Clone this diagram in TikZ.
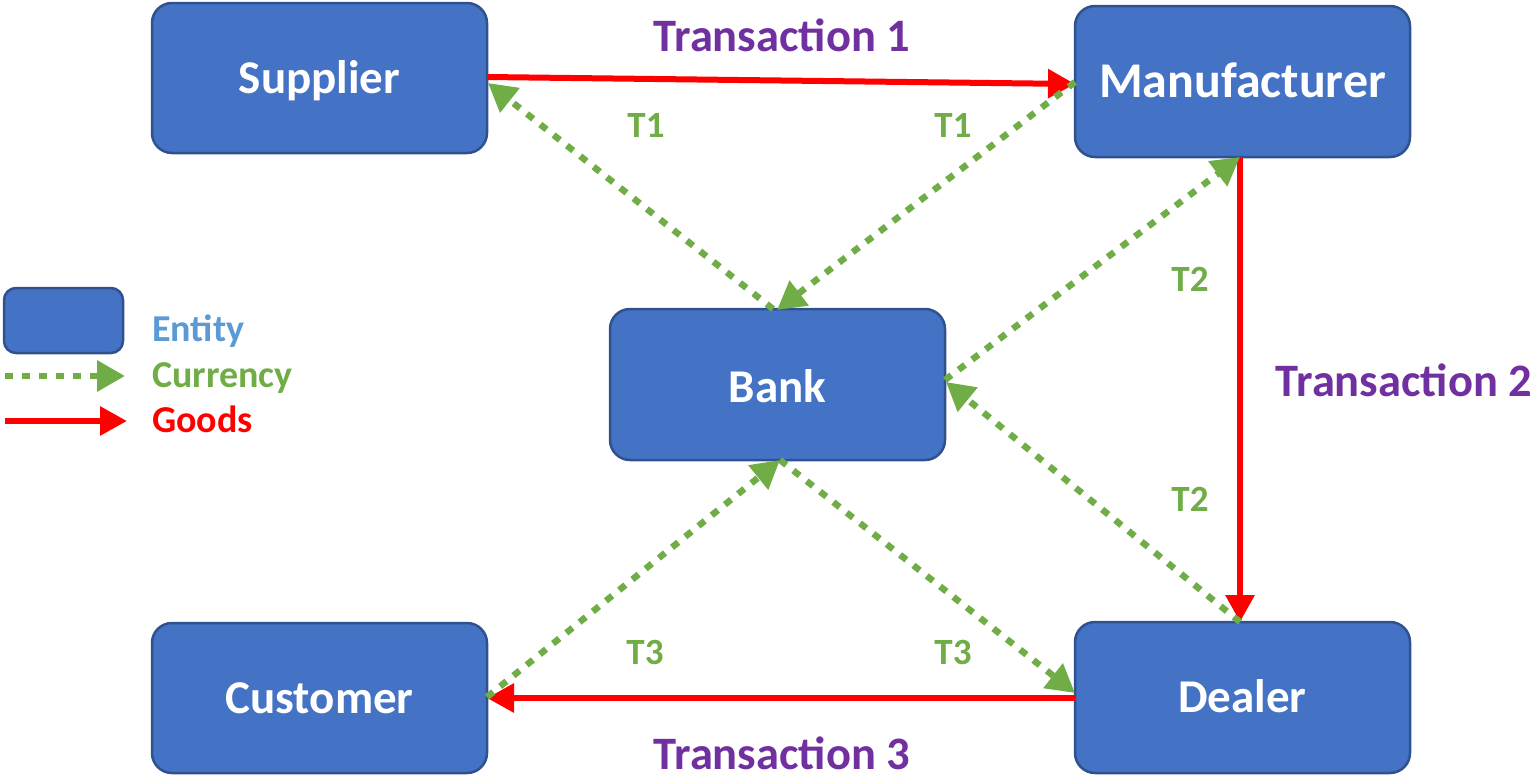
\documentclass[tikz,border=0pt]{standalone}
\usepackage{fontspec}
\setmainfont{Carlito}
\usetikzlibrary{arrows.meta}
\definecolor{boxfill}{HTML}{4472C4}
\definecolor{boxline}{HTML}{2F528F}
\definecolor{curgreen}{HTML}{70AD47}
\definecolor{txpurple}{HTML}{7030A0}
\definecolor{entblue}{HTML}{5B9BD5}
\tikzset{
  entity/.style={draw=boxline, fill=boxfill, line width=2.5pt, rounded corners=20pt,
    minimum width=335pt, minimum height=150pt, inner sep=0pt, text=white,
    text height=30pt, text depth=0pt,
    font=\fontsize{47}{52}\selectfont\bfseries},
  goods/.style={draw=red, line width=6pt, -{Triangle[length=27pt,width=28pt]}},
  currency/.style={draw=curgreen, line width=6.5pt, dash pattern=on 8pt off 9pt,
    -{Triangle[length=28pt,width=30pt]}},
  txlabel/.style={text=txpurple, font=\fontsize{46.5}{52}\selectfont\bfseries, inner sep=0pt,
    text height=29.5pt, text depth=0pt},
  tlabel/.style={text=curgreen, font=\fontsize{37}{42}\selectfont\bfseries, inner sep=0pt,
    text height=23.5pt, text depth=0pt},
  leglabel/.style={font=\fontsize{38}{44}\selectfont\bfseries, inner sep=0pt, anchor=west,
    text height=24pt, text depth=0pt},
}
\begin{document}
\begin{tikzpicture}[x=1pt, y=-1pt]
\useasboundingbox (0,0) rectangle (1535,779);
% entities
\node[entity] (sup) at (319.5,78) {Supplier};
\node[entity, minimum height=151pt, font=\fontsize{50}{55}\selectfont\bfseries, text height=32pt] (man) at (1242.5,81.5) {Manufacturer};
\node[entity, minimum height=151pt, text height=36pt] (bank) at (777.5,384.5) {Bank};
\node[entity] (cus) at (319.5,698) {Customer};
\node[entity, minimum height=151pt] (dea) at (1242.5,697.5) {Dealer};
% anchor coordinates
\coordinate (supE) at (487,77);
\coordinate (manW) at (1075,84);
\coordinate (manWc) at (1075,82);
\coordinate (manS) at (1240,157);
\coordinate (deaN) at (1240,622);
\coordinate (deaW) at (1075,698);
\coordinate (deaWc) at (1075,693);
\coordinate (cusE) at (487,698);
\coordinate (cusEc) at (487,697);
\coordinate (bankNl) at (773,309);
\coordinate (bankNr) at (777,310);
\coordinate (bankE1) at (945,380);
\coordinate (bankE2) at (946,382);
\coordinate (bankS) at (780,460);
\coordinate (supEc) at (488,83);
% goods
\draw[goods] (supE) -- (manW);
\draw[goods] (manS) -- (deaN);
\draw[goods] (deaW) -- (cusE);
% currency
\draw[currency] (bankNl) -- (supEc);
\draw[currency] (manWc) -- (bankNr);
\draw[currency] (bankE1) -- (manS);
\draw[currency] (deaN) -- (bankE2);
\draw[currency] (cusEc) -- (bankS);
\draw[currency] (bankS) -- (deaWc);
% labels
\node[txlabel] (tx1) at (782,37) {Transaction 1};
\node[txlabel] (tx2) at (1404,382) {Transaction 2};
\node[txlabel] (tx3) at (782,755) {Transaction 3};
\node[tlabel] (t1a) at (646,126) {T1};
\node[tlabel] (t1b) at (953,126) {T1};
\node[tlabel] (t2a) at (1190,280) {T2};
\node[tlabel] (t2b) at (1190,500) {T2};
\node[tlabel] (t3a) at (645,653) {T3};
\node[tlabel] (t3b) at (953,653) {T3};
% legend
\node[draw=boxline, fill=boxfill, line width=2.5pt, rounded corners=12pt,
  minimum width=119pt, minimum height=65pt, inner sep=0pt] (legbox) at (63.5,320.5) {};
\coordinate (lg1) at (5,376);
\coordinate (lg2) at (125,376);
\coordinate (lr1) at (5,421);
\coordinate (lr2) at (127,421);
\draw[currency] (lg1) -- (lg2);
\draw[goods] (lr1) -- (lr2);
\node[leglabel, text=entblue] (lent) at (152,329) {Entity};
\node[leglabel, text=curgreen] (lcur) at (152,375) {Currency};
\node[leglabel, text=red] (lgoo) at (152,420) {Goods};
\end{tikzpicture}
\end{document}
